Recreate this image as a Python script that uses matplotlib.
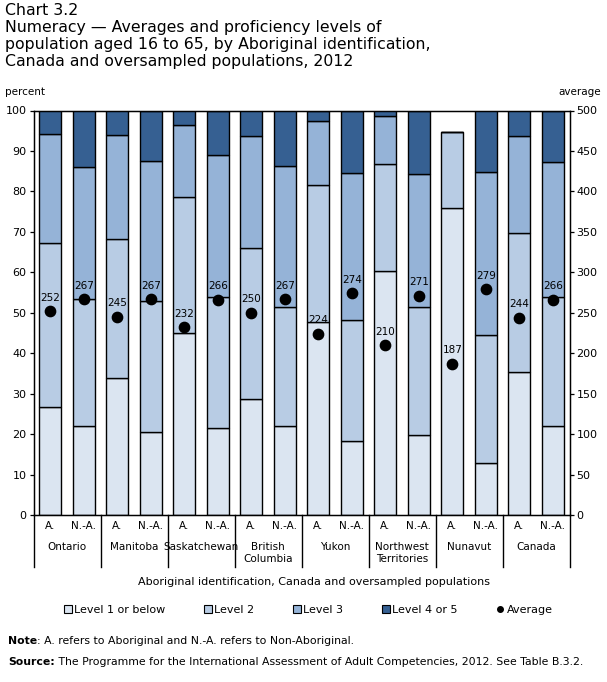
import numpy as np
import matplotlib
matplotlib.use("Agg")
import matplotlib.pyplot as plt
from matplotlib.lines import Line2D
from matplotlib.patches import Patch
import matplotlib.transforms as mtransforms

plt.rcParams["font.family"] = "DejaVu Sans"

# Data (percent by level, average score)
groups = ["Ontario", "Manitoba", "Saskatchewan", "British\nColumbia", "Yukon",
          "Northwest\nTerritories", "Nunavut", "Canada"]
sub_labels = ["A.", "N.-A."] * len(groups)
level1 = [26.8, 22.1, 33.8, 20.4, 45.1, 21.4, 28.8, 21.9, 47.6, 18.2, 60.4, 19.7, 76.0, 12.8, 35.3, 21.9]
level2 = [40.4, 31.4, 34.5, 32.6, 33.6, 32.6, 37.3, 29.6, 34.1, 29.9, 26.3, 31.6, 18.7, 31.6, 34.5, 32.1]
level3 = [27.1, 32.6, 25.7, 34.6, 17.6, 34.9, 27.7, 34.7, 15.6, 36.4, 11.9, 33.1, 0.0, 40.4, 24.0, 33.2]
level4 = [5.7, 13.9, 6.0, 12.4, 3.7, 11.1, 6.2, 13.8, 2.7, 15.5, 1.4, 15.6, 0.0, 15.2, 6.2, 12.8]
average = [252, 267, 245, 267, 232, 266, 250, 267, 224, 274, 210, 271, 187, 279, 244, 266]

level_names = ["Level 1 or below", "Level 2", "Level 3", "Level 4 or 5"]
colors = ["#dbe5f1", "#b8cce4", "#95b3d7", "#366092"]

W, H = 607, 682
fig = plt.figure(figsize=(W / 100, H / 100), dpi=100)
ax = fig.add_axes([33.5 / W, 1 - 515 / H, 536 / W, 404.5 / H])

x = np.arange(len(average))
bottom = np.zeros(len(x))
for vals, c in zip([level1, level2, level3, level4], colors):
    vals = np.array(vals)
    ax.bar(x, vals, 0.65, bottom=bottom, color=c, edgecolor="black", linewidth=1, zorder=2)
    bottom += vals

ax.set_xlim(-0.5, len(x) - 0.5)
ax.set_ylim(0, 100)
ax.set_yticks(range(0, 101, 10))
ax.tick_params(axis="y", labelsize=8, length=3, width=0.9, pad=2)
ax.set_xticks(x)
ax.set_xticklabels(sub_labels, fontsize=7.5)
ax.tick_params(axis="x", length=0, pad=4)
for s in ax.spines.values():
    s.set_linewidth(1)

ax2 = ax.twinx()
ax2.set_ylim(0, 500)
ax2.set_yticks(range(0, 501, 50))
ax2.tick_params(axis="y", labelsize=8, length=3, width=0.9, pad=2)
ax2.scatter(x, average, s=55, color="black", zorder=5)
for xi, a in zip(x, average):
    ax2.annotate(str(a), (xi, a), xytext=(0, 6), textcoords="offset points",
                 ha="center", va="bottom", fontsize=7.5)

# group labels and separators under the axis
trans = mtransforms.blended_transform_factory(ax.transData, ax.transAxes)
for i, g in enumerate(groups):
    ax.text(2 * i + 0.5, -0.066, g, transform=trans, ha="center", va="top",
            fontsize=7.5, linespacing=1.25)
for k in range(len(groups) + 1):
    ax.add_line(Line2D([2 * k - 0.5, 2 * k - 0.5], [0, -0.128], transform=trans,
                       color="black", linewidth=1, clip_on=False))

fig.text(314 / W, 1 - 582 / H, "Aboriginal identification, Canada and oversampled populations",
         ha="center", va="center", fontsize=8)
fig.text(5 / W, 1 - 92 / H, "percent", ha="left", va="center", fontsize=7.5)
fig.text(601 / W, 1 - 92 / H, "average", ha="right", va="center", fontsize=7.5)

fig.text(5 / W, 1 - 3 / H,
         "Chart 3.2\nNumeracy \u2014 Averages and proficiency levels of\n"
         "population aged 16 to 65, by Aboriginal identification,\n"
         "Canada and oversampled populations, 2012",
         ha="left", va="top", fontsize=11.3, linespacing=1.17)

handles = [Patch(facecolor=c, edgecolor="black", linewidth=0.8) for c in colors]
handles.append(Line2D([], [], marker="o", color="black", linestyle="none", markersize=4))
fig.legend(handles, level_names + ["Average"], loc="center", bbox_to_anchor=(0.508, 1 - 610 / H),
           ncol=5, frameon=False, fontsize=8, handlelength=0.7, handleheight=0.7,
           handletextpad=0.2, columnspacing=3.5)

# note and source lines with bold lead-in
t1 = fig.text(8 / W, 1 - 641 / H, "Note", ha="left", va="center", fontsize=7.8, weight="bold")
ax.annotate(": A. refers to Aboriginal and N.-A. refers to Non-Aboriginal.", xy=(1, 0.5),
            xycoords=t1, va="center", ha="left", fontsize=7.8, annotation_clip=False)
t2 = fig.text(8 / W, 1 - 662 / H, "Source:", ha="left", va="center", fontsize=7.8, weight="bold")
ax.annotate(" The Programme for the International Assessment of Adult Competencies, 2012. See Table B.3.2.",
            xy=(1, 0.5), xycoords=t2, va="center", ha="left", fontsize=7.8, annotation_clip=False)

fig.savefig("out.png", dpi=100)
